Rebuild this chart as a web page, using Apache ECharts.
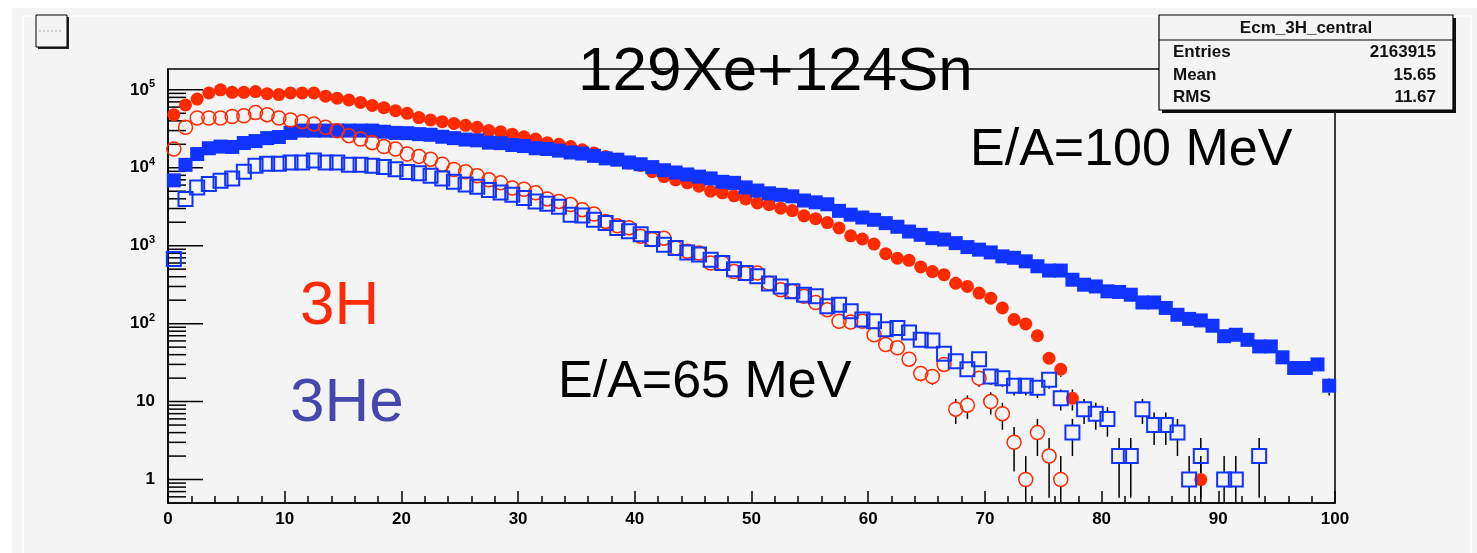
<!DOCTYPE html>
<html>
<head>
<meta charset="utf-8">
<script src="https://cdn.jsdelivr.net/npm/echarts@6/dist/echarts.min.js"></script>
<style>
  html, body { margin: 0; padding: 0; background: #ffffff; }
  #main { width: 1477px; height: 553px; }
</style>
</head>
<body>
<div id="main"></div>
<script>
// counts per 1-unit bin, bin i is centred at i + 0.5 (null = empty bin)
var tritonHigh = [48000, 64000, 76000, 91000, 100000, 93000, 93000, 95000, 89000, 87000,
    91000, 91000, 91000, 83000, 78000, 74000, 69000, 63000, 59000, 54000,
    50000, 44000, 41000, 39000, 37000, 35000, 33000, 30000, 29000, 27000,
    25000, 23400, 21000, 20000, 18700, 17000, 15500, 13900, 12900, 11500,
    10700, 8900, 7700, 7000, 6400, 5800, 5000, 4770, 4370, 3980,
    3540, 3370, 3030, 2820, 2420, 2220, 1980, 1690, 1340, 1220,
    1050, 790, 690, 650, 535, 466, 425, 330, 300, 247,
    212, 159, 113, 99, 70, 36, 26, 11, null, null,
    null, null, null, null, null, null, null, null, 1];

var tritonLow = [17400, 33000, 43500, 43500, 43500, 45500, 46500, 51000, 48000, 43500,
    41000, 39000, 36500, 33000, 29800, 25800, 23400, 21000, 18700, 17400,
    15000, 14000, 12900, 11100, 9500, 8900, 7900, 7000, 6400, 5500,
    5300, 4770, 3980, 3700, 3370, 2900, 2550, 2050, 1800, 1700,
    1320, 1200, 1250, 935, 850, 805, 600, 600, 466, 440,
    445, 330, 272, 260, 224, 187, 151, 107, 105, 107,
    72, 54, 49, 35, 23, 21, 30, 8, 9, 20,
    10, 7, 3, 1, 4, 2, 1];

var heliumHigh = [6900, 10900, 15000, 17800, 18700, 18500, 20800, 22000, 24000, 24800,
    28000, 30000, 30000, 30000, 30000, 30000, 30000, 30000, 29000, 28000,
    27800, 27000, 26500, 25000, 24000, 23000, 22500, 21000, 20700, 19600,
    19000, 17800, 17400, 16600, 15700, 15200, 14200, 13200, 12700, 11700,
    11100, 10200, 9300, 8700, 8200, 7700, 7300, 6600, 6400, 5600,
    5100, 4700, 4500, 4300, 3800, 3600, 3400, 2800, 2500, 2300,
    2150, 1950, 1750, 1520, 1380, 1250, 1200, 1080, 960, 890,
    820, 730, 700, 630, 545, 480, 480, 366, 316, 300,
    260, 255, 235, 187, 187, 159, 130, 115, 110, 94,
    69, 72, 62, 51, 51, 37, 27, 27, 30, 16];

var heliumLow = [675, 3980, 5600, 6200, 6800, 7300, 8900, 10600, 11300, 11300,
    11700, 11700, 12400, 11700, 11700, 10900, 10900, 10600, 10200, 9600,
    8800, 8500, 7900, 7300, 6600, 6100, 5700, 5200, 4800, 4500,
    4100, 3700, 3450, 3150, 2500, 2450, 2150, 1950, 1690, 1530,
    1400, 1220, 1030, 935, 820, 770, 660, 600, 500, 445,
    405, 327, 300, 260, 235, 224, 167, 175, 144, 113,
    107, 85, 88, 77, 62, 61, 41, 33, 26, 35,
    21, 20, 16, 16, 15, 19, 11, 4, 8, 7,
    6, 2, 2, 8, 5, 5, 4, 1, 2, null,
    1, 1, null, 2];

var xTickLabels = [0, 10, 20, 30, 40, 50, 60, 70, 80, 90, 100];
var yDecades = [0, 1, 2, 3, 4, 5]; // 1 .. 10^5

var statsTitle = 'Ecm_3H_central';
var statsRows = [['Entries', '2163915'], ['Mean', '15.65'], ['RMS', '11.67']];

var yMin = 0.5, yMax = 1.85e5;
var red = '#ff2a00', blue = '#1133ff';
var font = '"Liberation Sans", Arial, sans-serif';

function toPoints(arr) {
    var pts = [];
    for (var i = 0; i < arr.length; i++) {
        if (arr[i] != null) pts.push([i + 0.5, arr[i]]);
    }
    return pts;
}

// ROOT style error bars: sqrt(N), drawn outside the marker only
function errorBars(pts, half) {
    return {
        type: 'custom',
        data: pts,
        z: 1,
        silent: true,
        renderItem: function(params, api) {
            var x = api.value(0), n = api.value(1);
            var p = api.coord([x, n]);
            var e = Math.sqrt(n);
            var top = api.coord([x, n + e])[1];
            var cs = params.coordSys;
            var bottom = (n - e > yMin) ? api.coord([x, n - e])[1] : cs.y + cs.height;
            var kids = [];
            var st = { stroke: '#000', lineWidth: 1.5 };
            if (p[1] - half > top + 0.5) {
                kids.push({ type: 'line', shape: { x1: p[0], y1: top, x2: p[0], y2: p[1] - half }, style: st });
            }
            if (bottom > p[1] + half + 0.5) {
                kids.push({ type: 'line', shape: { x1: p[0], y1: p[1] + half, x2: p[0], y2: bottom }, style: st });
            }
            return { type: 'group', children: kids };
        }
    };
}

// log axis ticks at 1..9 x 10^k, drawn inward from the left frame
var yTicks = [];
for (var k = -1; k <= 5; k++) {
    for (var m = 1; m <= 9; m++) {
        var v = m * Math.pow(10, k);
        if (v > yMin * 1.001 && v < yMax) yTicks.push([0, v, m === 1 ? 1 : 0]);
    }
}

var tH = toPoints(tritonHigh), tL = toPoints(tritonLow);
var hH = toPoints(heliumHigh), hL = toPoints(heliumLow);

var myChart = echarts.init(document.getElementById('main'));

var option = {
    animation: false,
    backgroundColor: '#ffffff',
    grid: {
        left: 168, right: 142, top: 69, bottom: 50,
        show: true, borderColor: '#000', borderWidth: 1.5,
        backgroundColor: 'transparent'
    },
    xAxis: {
        type: 'value',
        min: 0, max: 100, interval: 10,
        axisLine: { lineStyle: { color: '#000', width: 1.5 } },
        axisTick: { inside: true, length: 12, lineStyle: { color: '#000', width: 1.5 } },
        minorTick: { show: true, splitNumber: 5, length: 7, lineStyle: { color: '#000', width: 1.5 } },
        splitLine: { show: false },
        axisLabel: {
            color: '#000', fontFamily: font, fontWeight: 'bold', fontSize: 17, margin: 8,
            formatter: function(v) { return xTickLabels.indexOf(v) >= 0 ? String(v) : ''; }
        }
    },
    yAxis: {
        type: 'log',
        min: yMin, max: yMax, splitNumber: 6,
        axisLine: { lineStyle: { color: '#000', width: 1.5 } },
        axisTick: { show: false },
        splitLine: { show: false },
        axisLabel: {
            margin: 13,
            showMinLabel: false, showMaxLabel: false,
            formatter: function(v) {
                var e = Math.round(Math.log10(v));
                if (Math.abs(Math.log10(v) - e) > 1e-4 || yDecades.indexOf(e) < 0) return '';
                if (e === 0) return '{b|1}';
                if (e === 1) return '{b|10}';
                return '{b|10}{s|' + e + '}';
            },
            rich: {
                b: { fontFamily: font, fontWeight: 'bold', fontSize: 17, color: '#000', lineHeight: 22 },
                s: { fontFamily: font, fontWeight: 'bold', fontSize: 11, color: '#000', verticalAlign: 'top', lineHeight: 12 }
            }
        }
    },
    graphic: [
        // canvas panel
        { type: 'rect', z: -10, shape: { x: 12, y: 8, width: 1465, height: 545 }, style: { fill: '#f4f4f4' } },
        { type: 'rect', z: -9, shape: { x: 23, y: 16, width: 1448, height: 540 }, style: { fill: 'none', stroke: '#fbfbfb', lineWidth: 2 } },
        // small empty box at top left
        { type: 'rect', z: 5, shape: { x: 38, y: 17, width: 31, height: 32 }, style: { fill: '#222' } },
        { type: 'rect', z: 6, shape: { x: 36, y: 15, width: 31, height: 32 }, style: { fill: '#f4f4f4', stroke: '#000', lineWidth: 1 } },
        { type: 'line', z: 7, shape: { x1: 39, y1: 31, x2: 63, y2: 31 }, style: { stroke: '#aaa', lineWidth: 1, lineDash: [2, 2] } },
        // stats box
        { type: 'rect', z: 50, shape: { x: 1162, y: 18, width: 294, height: 95 }, style: { fill: '#111' } },
        { type: 'rect', z: 51, shape: { x: 1159, y: 15, width: 294, height: 95 }, style: { fill: '#f4f4f4', stroke: '#000', lineWidth: 1.2 } },
        { type: 'line', z: 52, shape: { x1: 1159, y1: 40, x2: 1453, y2: 40 }, style: { stroke: '#000', lineWidth: 1.2 } },
        { type: 'text', z: 52, style: { x: 1306, y: 28, text: statsTitle, fontFamily: font, fontWeight: 'bold', fontSize: 17, fill: '#111', align: 'center', verticalAlign: 'middle' } },
        { type: 'text', z: 52, style: { x: 1173, y: 52, text: statsRows[0][0], fontFamily: font, fontWeight: 'bold', fontSize: 17, fill: '#111', align: 'left', verticalAlign: 'middle' } },
        { type: 'text', z: 52, style: { x: 1436, y: 52, text: statsRows[0][1], fontFamily: font, fontWeight: 'bold', fontSize: 17, fill: '#111', align: 'right', verticalAlign: 'middle' } },
        { type: 'text', z: 52, style: { x: 1173, y: 75, text: statsRows[1][0], fontFamily: font, fontWeight: 'bold', fontSize: 17, fill: '#111', align: 'left', verticalAlign: 'middle' } },
        { type: 'text', z: 52, style: { x: 1436, y: 75, text: statsRows[1][1], fontFamily: font, fontWeight: 'bold', fontSize: 17, fill: '#111', align: 'right', verticalAlign: 'middle' } },
        { type: 'text', z: 52, style: { x: 1173, y: 97, text: statsRows[2][0], fontFamily: font, fontWeight: 'bold', fontSize: 17, fill: '#111', align: 'left', verticalAlign: 'middle' } },
        { type: 'text', z: 52, style: { x: 1436, y: 97, text: statsRows[2][1], fontFamily: font, fontWeight: 'bold', fontSize: 17, fill: '#111', align: 'right', verticalAlign: 'middle' } },
        // annotations
        { type: 'text', z: 60, style: { x: 578, y: 73, text: '129Xe+124Sn', fontFamily: font, fontSize: 62, fill: '#000', align: 'left', verticalAlign: 'middle' } },
        { type: 'text', z: 60, style: { x: 970, y: 151, text: 'E/A=100 MeV', fontFamily: font, fontSize: 52, fill: '#000', align: 'left', verticalAlign: 'middle' } },
        { type: 'text', z: 60, style: { x: 558, y: 383, text: 'E/A=65 MeV', fontFamily: font, fontSize: 52, fill: '#000', align: 'left', verticalAlign: 'middle' } },
        { type: 'text', z: 60, style: { x: 300, y: 307, text: '3H', fontFamily: font, fontSize: 62, fill: '#ff2a0a', align: 'left', verticalAlign: 'middle' } },
        { type: 'text', z: 60, style: { x: 290, y: 404, text: '3He', fontFamily: font, fontSize: 62, fill: '#4646ac', align: 'left', verticalAlign: 'middle' } }
    ],
    series: [
        {
            // y axis ticks
            type: 'custom',
            data: yTicks,
            z: 3,
            silent: true,
            clip: false,
            renderItem: function(params, api) {
                var p = api.coord([0, api.value(1)]);
                var len = api.value(2) ? 35 : 18;
                return { type: 'line', shape: { x1: p[0], y1: p[1], x2: p[0] + len, y2: p[1] }, style: { stroke: '#000', lineWidth: 1.5 } };
            }
        },
        errorBars(tH, 6.5),
        errorBars(hH, 7),
        errorBars(tL, 7),
        errorBars(hL, 7),
        {
            name: '3H 100 MeV', type: 'scatter', data: tH, z: 4,
            symbol: 'circle', symbolSize: 13,
            itemStyle: { color: red, opacity: 1 }
        },
        {
            name: '3He 100 MeV', type: 'scatter', data: hH, z: 5,
            symbol: 'rect', symbolSize: 14,
            itemStyle: { color: blue, opacity: 1 }
        },
        {
            name: '3H 65 MeV', type: 'scatter', data: tL, z: 6,
            symbol: 'circle', symbolSize: 14,
            itemStyle: { color: 'rgba(0,0,0,0)', borderColor: red, borderWidth: 1.5, opacity: 1 }
        },
        {
            name: '3He 65 MeV', type: 'scatter', data: hL, z: 7,
            symbol: 'rect', symbolSize: 14,
            itemStyle: { color: 'rgba(0,0,0,0)', borderColor: blue, borderWidth: 2, opacity: 1 }
        }
    ]
};

if (option && typeof option === "object") {
    myChart.setOption(option, true);
}
</script>
</body>
</html>
